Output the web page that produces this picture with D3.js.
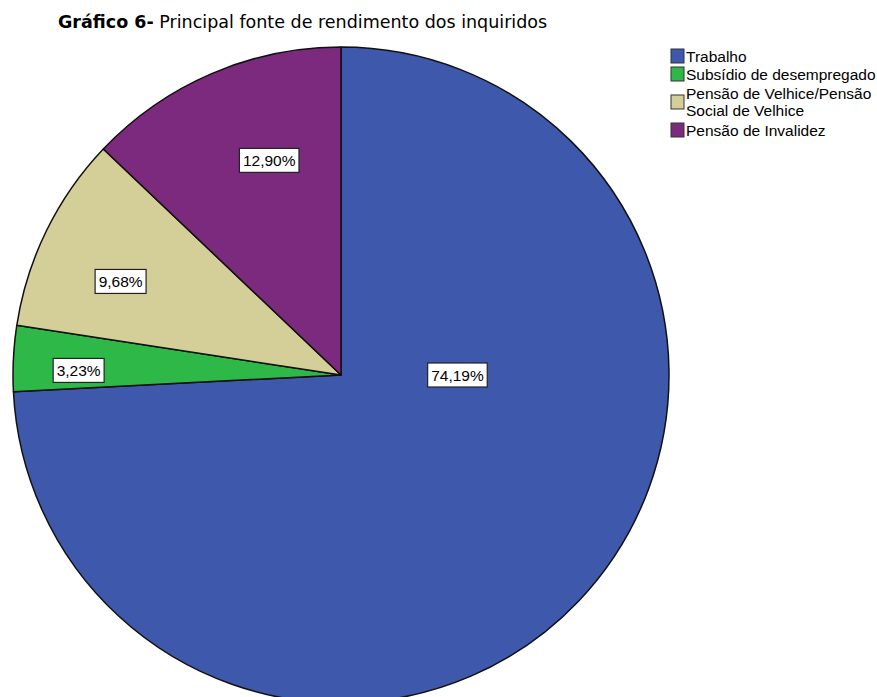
<!DOCTYPE html>
<html>
<head>
<meta charset="utf-8">
<script src="https://cdn.jsdelivr.net/npm/d3@7"></script>
<style>
  body { margin: 0; background: #fff; }
  svg { display: block; }
</style>
</head>
<body>
<div id="chart"></div>
<script>
// data
const categories = ["Trabalho", "Subsídio de desempregado", "Pensão de Velhice/Pensão Social de Velhice", "Pensão de Invalidez"];
const values = [74.19, 3.23, 9.68, 12.90];
const colors = ["#3e58ac", "#2eb848", "#d4ce98", "#7b2a7e"];

// where SPSS put the value boxes (angle clockwise from top, fraction of radius)
const labelAngles = [90, -89, -67, -18.5];
const labelRadius = [0.355, 0.8, 0.73, 0.69];

const width = 877, height = 697;
const cx = 341, cy = 375, r = 328;

const svg = d3.select("#chart").append("svg")
    .attr("width", width)
    .attr("height", height);

// title
const title = svg.append("text")
    .attr("x", 58)
    .attr("y", 28)
    .style("font-family", "'DejaVu Sans', sans-serif")
    .style("font-size", "17.5px")
    .attr("fill", "#000");
title.append("tspan").attr("font-weight", "bold").text("Gráfico 6-");
title.append("tspan").text(" Principal fonte de rendimento dos inquiridos");

const pie = d3.pie().sort(null).value(d => d);
const arcs = pie(values);
const arc = d3.arc().innerRadius(0).outerRadius(r);

const g = svg.append("g").attr("transform", `translate(${cx},${cy})`);

g.selectAll("path.slice")
    .data(arcs)
    .join("path")
    .attr("class", "slice")
    .attr("d", arc)
    .attr("fill", (d, i) => colors[i])
    .attr("stroke", "#111")
    .attr("stroke-width", 1.5)
    .attr("stroke-linejoin", "round");

const fmt = v => v.toFixed(2).replace(".", ",") + "%";

const labels = g.selectAll("g.lbl")
    .data(arcs)
    .join("g")
    .attr("class", "lbl")
    .attr("transform", (d, i) => {
        let a = labelAngles[i] * Math.PI / 180;
        let rr = labelRadius[i] * r;
        return `translate(${Math.sin(a) * rr},${-Math.cos(a) * rr})`;
    });

labels.each(function (d) {
    let sel = d3.select(this);
    let rect = sel.append("rect");
    let t = sel.append("text")
        .attr("text-anchor", "middle")
        .attr("dy", "0.36em")
        .style("font-family", "'Liberation Sans', Arial, sans-serif")
        .style("font-size", "15.5px")
        .attr("fill", "#000")
        .text(fmt(d.data));
    let w = t.node().getComputedTextLength() + 7;
    rect.attr("x", -w / 2).attr("y", -12)
        .attr("width", w).attr("height", 24)
        .attr("fill", "#fff")
        .attr("stroke", "#222")
        .attr("stroke-width", 1.2);
});

// legend
const legend = svg.append("g").attr("transform", "translate(671,0)");
let yPos = 47;
categories.forEach((c, i) => {
    let item = legend.append("g");
    let t = item.append("text")
        .attr("x", 15)
        .style("font-family", "'Liberation Sans', Arial, sans-serif")
        .style("font-size", "15.5px")
        .attr("fill", "#000");
    // wrap long names like the original
    let words = c.split(" "), line = [], lines = [];
    let probe = t.append("tspan");
    words.forEach(w => {
        line.push(w);
        probe.text(line.join(" "));
        if (probe.node().getComputedTextLength() > 200 && line.length > 1) {
            line.pop();
            lines.push(line.join(" "));
            line = [w];
        }
    });
    lines.push(line.join(" "));
    probe.remove();
    let h = lines.length > 1 ? 38 : 18;
    let mid = yPos + h / 2;
    lines.forEach((l, k) => {
        t.append("tspan")
            .attr("x", 15)
            .attr("y", mid + (k - (lines.length - 1) / 2) * 17)
            .attr("dy", "0.36em")
            .text(l);
    });
    item.append("rect")
        .attr("x", 0).attr("y", mid - 7)
        .attr("width", 13).attr("height", 14)
        .attr("fill", colors[i])
        .attr("stroke", "#333")
        .attr("stroke-width", 1);
    yPos += h;
});
</script>
</body>
</html>
